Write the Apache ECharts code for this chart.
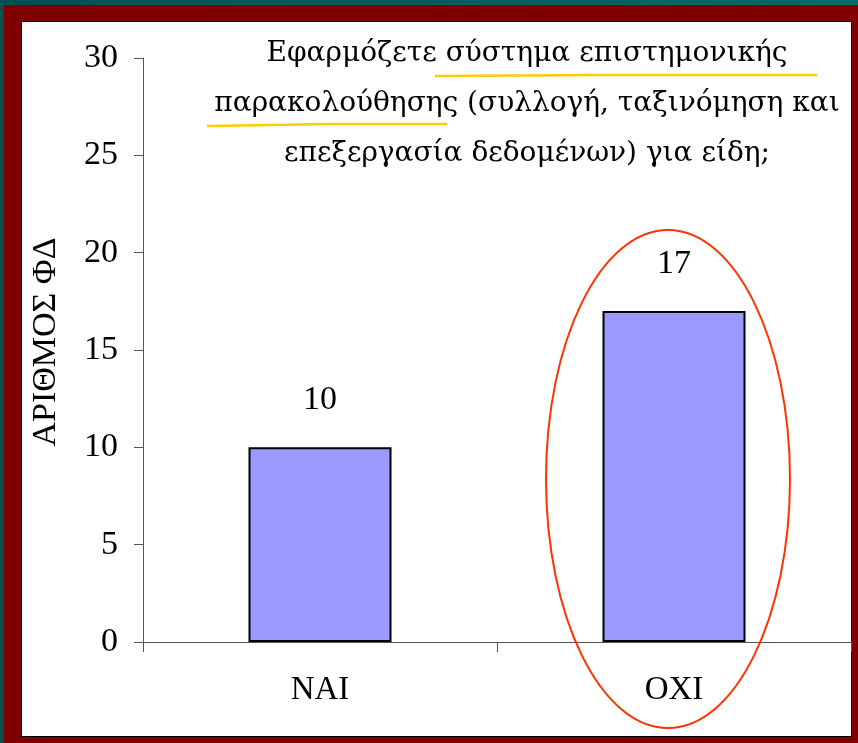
<!DOCTYPE html>
<html>
<head>
<meta charset="utf-8">
<script src="https://cdn.jsdelivr.net/npm/echarts@6/dist/echarts.min.js"></script>
<style>
  html, body { margin: 0; padding: 0; }
  body {
    width: 858px; height: 743px; position: relative; overflow: hidden;
    background: linear-gradient(90deg, #005050, #006a6a);
  }
  #frame {
    position: absolute; left: 4px; top: 5px; width: 854px; height: 738px;
    background: #7f0000;
  }
  #paper {
    position: absolute; left: 21px; top: 21px; width: 829px; height: 714px;
    background: #fff; border: 1px solid #000;
  }
  #chart { position: absolute; left: 0; top: 0; width: 858px; height: 743px; }
</style>
</head>
<body>
<div id="frame"></div>
<div id="paper"></div>
<div id="chart"></div>
<script>
  // data
  var categories = ['NAI', 'OXI'];
  var counts = [10, 17];
  var yTicks = {min: 0, max: 30, interval: 5};
  var titleLines = [
    'Εφαρμόζετε σύστημα επιστημονικής',
    'παρακολούθησης (συλλογή, ταξινόμηση και',
    'επεξεργασία δεδομένων) για είδη;'
  ];
  var yName = 'ΑΡΙΘΜΟΣ ΦΔ';

  var serif = '"Liberation Serif", "Times New Roman", serif';
  var titleFont = '"DejaVu Serif", serif';

  var chart = echarts.init(document.getElementById('chart'));

  var option = {
    backgroundColor: 'transparent',
    animation: false,
    grid: { left: 143, right: 7, top: 58, bottom: 101 },
    xAxis: {
      type: 'category',
      data: categories,
      axisLine: { lineStyle: { color: '#555', width: 1 } },
      axisTick: { show: true, length: 10, inside: false, lineStyle: { color: '#555' } },
      axisLabel: { margin: 32, fontSize: 33, color: '#000', fontFamily: serif }
    },
    yAxis: {
      type: 'value',
      min: yTicks.min,
      max: yTicks.max,
      interval: yTicks.interval,
      name: yName,
      nameLocation: 'middle',
      nameGap: 80,
      nameRotate: 90,
      nameTextStyle: { fontSize: 34, color: '#000', fontFamily: serif, padding: [0, 0, 0, 16] },
      axisLine: { show: true, lineStyle: { color: '#555', width: 1 } },
      axisTick: { show: true, length: 9, lineStyle: { color: '#555' } },
      axisLabel: { margin: 25, fontSize: 34, color: '#000', fontFamily: serif },
      splitLine: { show: false }
    },
    series: [{
      type: 'bar',
      data: counts,
      barWidth: 143,
      itemStyle: { color: '#9999ff', borderColor: '#000', borderWidth: 2 },
      label: {
        show: true,
        position: 'top',
        distance: 30,
        fontSize: 34,
        color: '#000',
        fontFamily: serif
      }
    }]
  };
  chart.setOption(option);

  // decorations: title, yellow underlines, red ellipse round OXI
  var c = chart.convertToPixel({ seriesIndex: 0 }, [1, 0]);
  chart.setOption({
    graphic: [
      {
        type: 'text',
        x: 527, y: 29,
        style: {
          text: titleLines.join('\n'),
          font: '28px ' + titleFont,
          fill: '#000',
          textAlign: 'center',
          lineHeight: 50
        }
      },
      {
        type: 'polyline',
        shape: { points: [[435, 76], [600, 75], [817, 75]] },
        style: { stroke: '#ffcc00', lineWidth: 2.5, fill: null }
      },
      {
        type: 'polyline',
        shape: { points: [[207, 126], [330, 124], [447, 124]] },
        style: { stroke: '#ffcc00', lineWidth: 2.5, fill: null }
      },
      {
        type: 'ellipse',
        shape: { cx: c[0] - 6, cy: 479, rx: 122, ry: 249 },
        style: { stroke: '#ff3300', lineWidth: 2, fill: null },
        z: 10
      }
    ]
  });
</script>
</body>
</html>
